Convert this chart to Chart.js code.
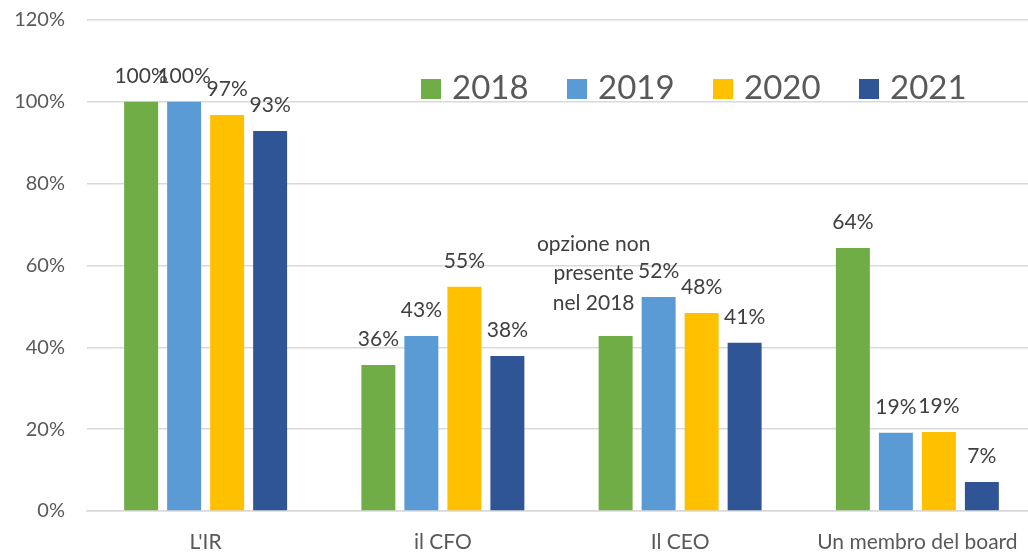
<!DOCTYPE html>
<html>
<head>
<meta charset="utf-8">
<script src="https://cdn.jsdelivr.net/npm/chart.js@4.4.1/dist/chart.umd.min.js"></script>
<style>
html,body{margin:0;padding:0;background:#fff;overflow:hidden;}
#wrap{width:1028px;height:553px;overflow:hidden;}
</style>
</head>
<body>
<div id="wrap"><canvas id="c" width="1036" height="553"></canvas></div>
<script>
const categories = ["L'IR", "il CFO", "Il CEO", "Un membro del board"];
const years = ["2018", "2019", "2020", "2021"];
const values2018 = [100, 35.7, 42.8, 64.3];
const values2019 = [100, 42.8, 52.3, 19.1];
const values2020 = [96.8, 54.8, 48.4, 19.3];
const values2021 = [92.9, 37.9, 41.1, 7.1];
const colors = ["#70AD47", "#5B9BD5", "#FFC000", "#2F5597"];
// label override: CEO 2018 option was not present
const specialLabel = { dataset: 0, index: 2, lines: ["opzione non", "presente", "nel 2018"] };
const yMax = 120, yStep = 20;

const FONT = "Lato, 'Open Sans', sans-serif";
const series = [values2018, values2019, values2020, values2021];

const labelPlugin = {
  id: 'barLabels',
  afterDatasetsDraw(chart) {
    const ctx = chart.ctx;
    ctx.save();
    ctx.fillStyle = '#404040';
    ctx.font = '21px ' + FONT;
    ctx.textAlign = 'center';
    ctx.textBaseline = 'alphabetic';
    chart.data.datasets.forEach((ds, di) => {
      const meta = chart.getDatasetMeta(di);
      meta.data.forEach((bar, i) => {
        if (di === specialLabel.dataset && i === specialLabel.index) {
          const cx = bar.x - 22;
          const base = bar.y - 85;
          specialLabel.lines.forEach((ln, k) => ctx.fillText(ln, cx, base + k * 29.5));
        } else {
          ctx.fillText(Math.round(ds.data[i]) + '%', bar.x, bar.y - 19);
        }
      });
    });
    ctx.restore();
  }
};

const legendPlugin = {
  id: 'bigLegend',
  afterDraw(chart) {
    const ctx = chart.ctx;
    ctx.save();
    ctx.font = '33px ' + FONT;
    ctx.textBaseline = 'alphabetic';
    ctx.textAlign = 'left';
    chart.data.datasets.forEach((ds, di) => {
      const x = 421 + di * 146;
      ctx.fillStyle = ds.backgroundColor;
      ctx.fillRect(x, 79, 20, 20);
      ctx.fillStyle = '#595959';
      ctx.fillText(ds.label, x + 31, 99);
    });
    ctx.restore();
  }
};

new Chart(document.getElementById('c'), {
  type: 'bar',
  data: {
    labels: categories,
    datasets: years.map((y, i) => ({
      label: y,
      data: series[i],
      backgroundColor: colors[i],
      borderWidth: 0,
      categoryPercentage: 0.725,
      barPercentage: 0.79
    }))
  },
  options: {
    responsive: false,
    animation: false,
    layout: { padding: { top: 20, right: 0, left: 0, bottom: 0 } },
    plugins: { legend: { display: false }, tooltip: { enabled: false } },
    scales: {
      x: {
        grid: { display: false, drawTicks: false },
        border: { display: true, color: '#D9D9D9', width: 1.5 },
        ticks: { color: '#595959', font: { family: FONT, size: 21 }, padding: 19, maxRotation: 0, autoSkip: false },
        afterFit(scale) { scale.height = 42; scale.paddingLeft = 0; scale.paddingRight = 0; }
      },
      y: {
        min: 0, max: yMax,
        grid: { color: '#D9D9D9', lineWidth: 1.5, drawTicks: false },
        border: { display: false },
        ticks: { stepSize: yStep, color: '#595959', font: { family: FONT, size: 20 }, padding: 22,
          callback: v => v + '%' },
        afterFit(scale) { scale.width = 87; scale.paddingTop = 0; scale.paddingBottom = 0; }
      }
    }
  },
  plugins: [labelPlugin, legendPlugin]
});
</script>
</body>
</html>
